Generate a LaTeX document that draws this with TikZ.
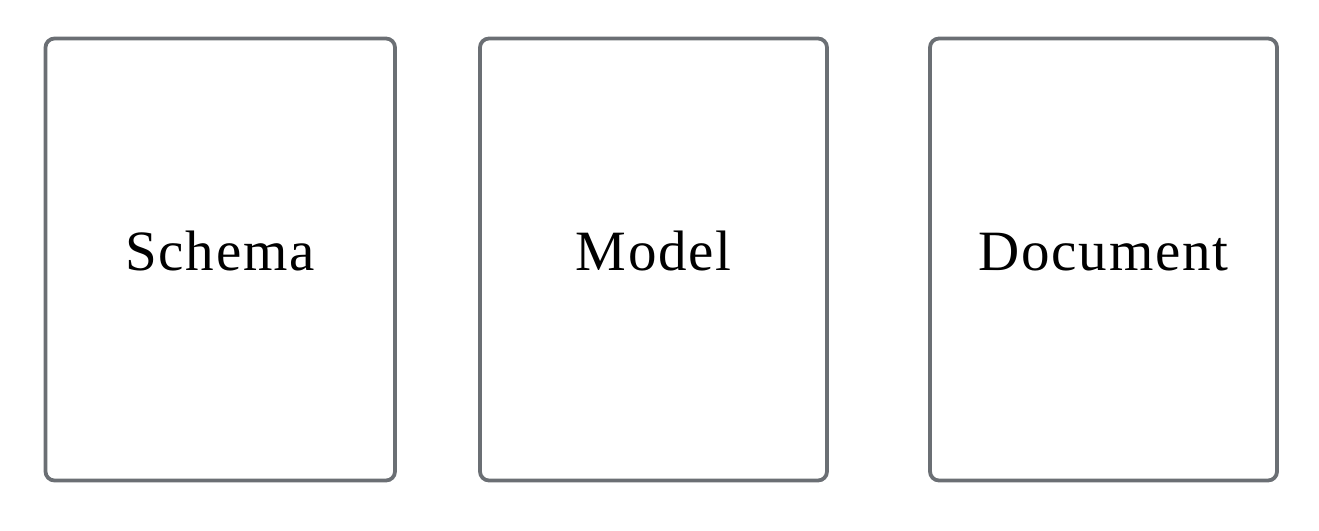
\documentclass[tikz,border=0pt]{standalone}
\usepackage{fontspec}
\setmainfont{Liberation Serif}
\newfontfamily\labfont[LetterSpace=3]{Liberation Serif}
\definecolor{boxgray}{HTML}{6B6F74}
\begin{document}
\begin{tikzpicture}[x=1pt,y=-1pt,
  card/.style={draw=boxgray, line width=3.8pt, rounded corners=9pt, fill=white},
  lab/.style={anchor=base, font=\labfont\fontsize{57}{60}\selectfont, text=black, inner sep=0pt}]
\useasboundingbox (0,0) rectangle (1319,530);
\draw[card] (45.5,38.5) rectangle (395,480.5);
\draw[card] (480,38.5) rectangle (827,480.5);
\draw[card] (930,38.5) rectangle (1277,480.5);
\node[lab] (schema) at (220,270) {Schema};
\node[lab] (model) at (653.5,270) {Model};
\node[lab] (document) at (1103.5,270) {Document};
\end{tikzpicture}
\end{document}
